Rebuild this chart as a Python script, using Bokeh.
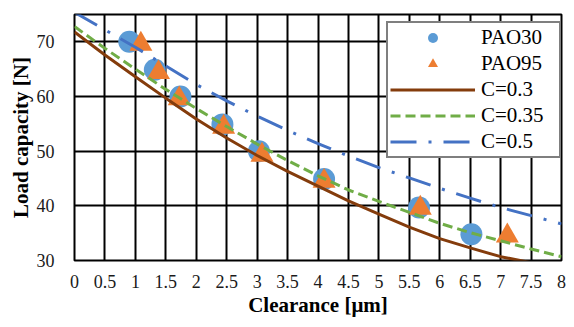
from bokeh.plotting import figure
from bokeh.models import Range1d, FixedTicker, Legend, LegendItem
from bokeh.embed import file_html
from bokeh.resources import INLINE

# ---- data ----
pao30_x = [0.90, 1.32, 1.74, 2.43, 3.03, 4.10, 5.66, 6.52]
pao30_y = [70.0, 64.9, 60.0, 54.9, 50.0, 44.9, 39.7, 34.8]
pao95_x = [1.09, 1.38, 1.72, 2.45, 3.08, 4.10, 5.68, 7.11]
pao95_y = [69.6, 64.4, 59.6, 54.4, 49.3, 44.5, 39.6, 34.5]

curve_x = [0, 0.5, 1, 1.5, 2, 2.5, 3, 3.5, 4, 4.5, 5, 5.5, 6, 6.5, 7, 7.5, 8]
c03_y = [71.8, 67.6, 63.6, 59.7, 55.9, 52.4, 49.2, 46.3, 43.6, 40.9, 38.5, 36.1, 34.0, 32.3, 30.7, 29.6, 28.6]
c035_y = [72.8, 68.8, 65.0, 61.3, 57.8, 54.5, 51.3, 48.3, 45.5, 42.9, 40.8, 38.8, 36.8, 35.1, 33.6, 32.1, 30.7]
c05_y = [75.4, 72.2, 69.0, 65.6, 62.2, 59.2, 56.4, 53.8, 51.4, 49.1, 47.0, 45.1, 43.2, 41.4, 39.7, 38.2, 36.7]

x_ticks = [0, 0.5, 1, 1.5, 2, 2.5, 3, 3.5, 4, 4.5, 5, 5.5, 6, 6.5, 7, 7.5, 8]
x_tick_labels = ["0", "0.5", "1", "1.5", "2", "2.5", "3", "3.5", "4", "4.5",
                 "5", "5.5", "6", "6.5", "7", "7.5", "8"]
y_ticks = [30, 40, 50, 60, 70]
y_tick_labels = ["30", "40", "50", "60", "70"]

series_names = ["PAO30", "PAO95", "C=0.3", "C=0.35", "C=0.5"]

FONT = "Liberation Serif"

p = figure(width=566, height=319, x_range=Range1d(0, 8), y_range=Range1d(30, 75),
           output_backend="svg", toolbar_location=None,
           min_border_left=74, min_border_right=5, min_border_top=14, min_border_bottom=58)
p.background_fill_color = "white"
p.border_fill_color = "white"
p.outline_line_color = "black"
p.outline_line_width = 2

# grid
p.xgrid.ticker = FixedTicker(ticks=x_ticks)
p.ygrid.ticker = FixedTicker(ticks=y_ticks)
for g in (p.xgrid, p.ygrid):
    g.grid_line_color = "black"
    g.grid_line_width = 2
    g.grid_line_alpha = 1.0

# axes
p.xaxis.ticker = FixedTicker(ticks=x_ticks)
p.xaxis.major_label_overrides = {t: l for t, l in zip(x_ticks, x_tick_labels)}
p.yaxis.ticker = FixedTicker(ticks=y_ticks)
p.yaxis.major_label_overrides = {t: l for t, l in zip(y_ticks, y_tick_labels)}
for ax in (p.xaxis, p.yaxis):
    ax.axis_line_color = None
    ax.major_tick_line_color = None
    ax.minor_tick_line_color = None
    ax.major_tick_out = 0
    ax.major_tick_in = 0
    ax.major_label_text_font = FONT
    ax.major_label_text_font_size = "18px"
    ax.major_label_text_color = "#1a1a1a"
    ax.axis_label_text_font = FONT
    ax.axis_label_text_font_style = "bold"
    ax.axis_label_text_font_size = "21px"
    ax.axis_label_text_color = "black"
p.xaxis.axis_label = "Clearance [\u03bcm]"
p.yaxis.axis_label = "Load capacity [N]"
p.xaxis.major_label_standoff = 14
p.xaxis.axis_label_standoff = 2
p.yaxis.major_label_standoff = 20
p.yaxis.axis_label_standoff = 1

# markers
r30 = p.scatter(pao30_x, pao30_y, marker="circle", size=22,
                fill_color="#5B9BD5", line_color=None)
r95 = p.scatter(pao95_x, pao95_y, marker="triangle", size=23,
                fill_color="#ED7D31", line_color=None)

# curves
l1 = p.line(curve_x, c03_y, line_color="#843C0C", line_width=3)
l2 = p.line(curve_x, c035_y, line_color="#70AD47", line_width=3, line_dash="10 5")
l3 = p.line(curve_x, c05_y, line_color="#4472C4", line_width=3, line_dash="26 12 3 12")

legend = Legend(items=[
    LegendItem(label=series_names[0], renderers=[r30]),
    LegendItem(label=series_names[1], renderers=[r95]),
    LegendItem(label=series_names[2], renderers=[l1]),
    LegendItem(label=series_names[3], renderers=[l2]),
    LegendItem(label=series_names[4], renderers=[l3]),
])
legend.location = (312, 102)
legend.padding = 2
legend.spacing = 1
legend.glyph_width = 85
legend.glyph_height = 25
legend.label_height = 25
legend.label_width = 76
legend.label_standoff = 6
legend.label_text_font = FONT
legend.label_text_font_size = "21px"
legend.label_text_color = "black"
legend.border_line_color = "black"
legend.border_line_width = 2
legend.background_fill_color = "white"
legend.background_fill_alpha = 1.0
p.add_layout(legend)

open("out.html", "w").write(file_html(p, INLINE))
